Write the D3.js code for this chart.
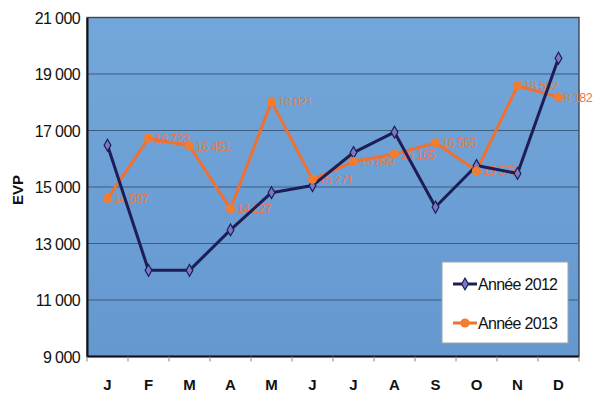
<!DOCTYPE html>
<html>
<head>
<meta charset="utf-8">
<script src="https://cdn.jsdelivr.net/npm/d3@7"></script>
<style>
  html, body { margin: 0; padding: 0; background: #fff; }
  svg { display: block; font-family: "Liberation Sans", Arial, sans-serif; }
</style>
</head>
<body>
<svg id="chart" width="594" height="395"></svg>
<script>
// Monthly container traffic (EVP)
const months = ["J", "F", "M", "A", "M", "J", "J", "A", "S", "O", "N", "D"];
const values2012 = [16480, 12050, 12050, 13480, 14800, 15050, 16220, 16940, 14290, 15760, 15480, 19560];
const values2013 = [14597, 16723, 16451, 14227, 18021, 15271, 15899, 16165, 16565, 15573, 18582, 18182];
const labels2013 = ["14 597", "16 723", "16 451", "14 227", "18 021", "15 271", "15 899", "16 165", "16 565", "15 573", "18 582", "18 182"];
const yTicks = [9000, 11000, 13000, 15000, 17000, 19000, 21000];
const seriesNames = ["Année 2012", "Année 2013"];

const svg = d3.select("#chart");
const m = { left: 87, right: 579, top: 17.5, bottom: 356.5 };
const idx = d3.range(months.length);

const x = d3.scaleBand().domain(idx).range([m.left, m.right]);
const y = d3.scaleLinear().domain([9000, 21000]).range([m.bottom, m.top]);
const cx = i => x(i) + x.bandwidth() / 2;

// plot background with a gentle gradient
const defs = svg.append("defs");
const grad = defs.append("linearGradient").attr("id", "bg").attr("x1", 0).attr("y1", 0).attr("x2", 0).attr("y2", 1);
grad.append("stop").attr("offset", "0%").attr("stop-color", "#73a7db");
grad.append("stop").attr("offset", "100%").attr("stop-color", "#6598cf");

svg.append("rect")
  .attr("x", m.left).attr("y", m.top)
  .attr("width", m.right - m.left).attr("height", m.bottom - m.top)
  .attr("fill", "url(#bg)")
  .attr("stroke", "#3a4652").attr("stroke-width", 1.4);

// horizontal gridlines
svg.append("g").selectAll("line")
  .data(yTicks.slice(1, -1))
  .join("line")
  .attr("x1", m.left).attr("x2", m.right)
  .attr("y1", d => y(d)).attr("y2", d => y(d))
  .attr("stroke", "#3d5d7d").attr("stroke-width", 1);

// y axis
const fmt = d => d3.format(",")(d).replace(",", " ");
const yAxis = svg.append("g")
  .attr("transform", `translate(${m.left},0)`)
  .call(d3.axisLeft(y).tickValues(yTicks).tickFormat(fmt).tickSize(0).tickPadding(7));
yAxis.select(".domain").attr("stroke", "#111").attr("stroke-width", 2);
yAxis.selectAll("text")
  .attr("font-size", 16).attr("fill", "#111").attr("letter-spacing", "-0.6px")
  .attr("dy", "0.36em");

// x axis with ticks between categories
const xAxisG = svg.append("g").attr("transform", `translate(0,${m.bottom})`);
xAxisG.append("line")
  .attr("x1", m.left).attr("x2", m.right).attr("y1", 0).attr("y2", 0)
  .attr("stroke", "#111").attr("stroke-width", 2);
xAxisG.selectAll("line.tick")
  .data(d3.range(months.length + 1))
  .join("line").attr("class", "tick")
  .attr("x1", i => m.left + i * x.bandwidth()).attr("x2", i => m.left + i * x.bandwidth())
  .attr("y1", 0).attr("y2", 5)
  .attr("stroke", "#888").attr("stroke-width", 1);
xAxisG.selectAll("text")
  .data(idx)
  .join("text")
  .attr("x", cx).attr("y", 33)
  .attr("text-anchor", "middle")
  .attr("font-size", 15).attr("font-weight", "bold").attr("fill", "#111")
  .text(i => months[i]);

// y axis title
svg.append("text")
  .attr("transform", "translate(23,190) rotate(-90)")
  .attr("text-anchor", "middle")
  .attr("font-size", 15).attr("font-weight", "bold").attr("fill", "#111")
  .text("EVP");

const line = d3.line().x((d, i) => cx(i)).y(d => y(d));

// 2013 value labels (drawn beneath the lines)
const lbl = svg.append("g").selectAll("text")
  .data(values2013)
  .join("text")
  .attr("x", (d, i) => cx(i) + 6).attr("y", d => y(d) + 4.5)
  .attr("font-size", 12.5).attr("fill", "#e8784e").attr("letter-spacing", "-0.6px")
  .text((d, i) => labels2013[i]);
// keep the last label inside the frame
lbl.each(function () {
  const w = this.getComputedTextLength();
  const x0 = +this.getAttribute("x");
  if (x0 + w > 592) this.setAttribute("x", 592 - w);
});

// 2013 series (orange)
svg.append("path").datum(values2013)
  .attr("d", line).attr("fill", "none")
  .attr("stroke", "#f07030").attr("stroke-width", 3).attr("stroke-linejoin", "round");

// 2012 series (navy)
svg.append("path").datum(values2012)
  .attr("d", line).attr("fill", "none")
  .attr("stroke", "#1e1d55").attr("stroke-width", 3).attr("stroke-linejoin", "round");

// 2012 diamond markers
svg.append("g").selectAll("path")
  .data(values2012)
  .join("path")
  .attr("d", d3.symbol().type(d3.symbolDiamond).size(40))
  .attr("transform", (d, i) => `translate(${cx(i)},${y(d)})`)
  .attr("fill", "#7b78c8").attr("stroke", "#1e1d55").attr("stroke-width", 1.2);

// 2013 circle markers
svg.append("g").selectAll("circle")
  .data(values2013)
  .join("circle")
  .attr("cx", (d, i) => cx(i)).attr("cy", d => y(d)).attr("r", 4.6)
  .attr("fill", "#f27c32");

// legend
const lg = svg.append("g").attr("transform", "translate(442,262)");
lg.append("rect").attr("width", 126).attr("height", 81)
  .attr("fill", "#fff").attr("stroke", "#9aa3ad").attr("stroke-width", 1);
const colors = ["#1e1d55", "#f07030"];
seriesNames.forEach((name, k) => {
  const g = lg.append("g").attr("transform", `translate(0,${22 + k * 39})`);
  g.append("line").attr("x1", 11).attr("x2", 35).attr("y1", 0).attr("y2", 0)
    .attr("stroke", colors[k]).attr("stroke-width", 3);
  if (k === 0) {
    g.append("path").attr("d", d3.symbol().type(d3.symbolDiamond).size(40))
      .attr("transform", "translate(23,0)")
      .attr("fill", "#7b78c8").attr("stroke", "#1e1d55").attr("stroke-width", 1.2);
  } else {
    g.append("circle").attr("cx", 23).attr("cy", 0).attr("r", 4.6).attr("fill", "#f27c32");
  }
  g.append("text").attr("x", 36).attr("y", 6)
    .attr("font-size", 16).attr("fill", "#111").attr("letter-spacing", "-0.7px")
    .text(name);
});
</script>
</body>
</html>
